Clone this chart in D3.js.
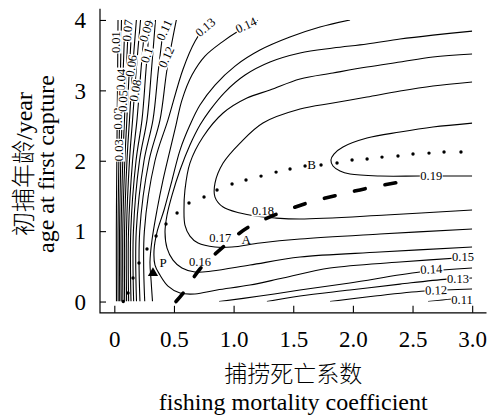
<!DOCTYPE html>
<html>
<head>
<meta charset="utf-8">
<script src="https://cdn.jsdelivr.net/npm/d3@7"></script>
<style>body{margin:0;background:#fff}</style>
</head>
<body>
<div id="chart"></div>
<script>
//----------------------------------------------------------------
// values read off the figure : F = fishing mortality, tc = age at first capture
var xTicks = [0, 0.5, 1, 1.5, 2, 2.5, 3];
var xTickLabels = ["0", "0.5", "1.0", "1.5", "2.0", "2.5", "3.0"];
var yTicks = [0, 1, 2, 3, 4];
var yTickLabels = ["0", "1", "2", "3", "4"];

// tc heights at which the steep lines near F = 0 were read
var steepTc = [0, 1, 2, 2.58, 3.3, 4];
var f001 = [0.018, 0.017, 0.021, 0.024, 0.028, 0.031];
var f002 = [0.032, 0.031, 0.038, 0.044, 0.052, 0.060];
var f003 = [0.045, 0.044, 0.054, 0.065, 0.075, 0.090];
var f004 = [0.058, 0.057, 0.071, 0.085, 0.101, 0.120];
var f005 = [0.072, 0.071, 0.088, 0.105, 0.126, 0.150];
var f006 = [0.087, 0.086, 0.106, 0.127, 0.153, 0.185];
var f007 = [0.103, 0.102, 0.127, 0.153, 0.184, 0.220];
var f008 = [0.120, 0.119, 0.153, 0.190, 0.224, 0.260];
var f009 = [0.140, 0.138, 0.182, 0.232, 0.266, 0.299];
var f010 = [0.162, 0.160, 0.211, 0.274, 0.312, 0.345];
var f011 = [0.186, 0.184, 0.249, 0.324, 0.370, 0.420];
var f012 = [0.215, 0.213, 0.291, 0.383, 0.442, 0.520];

// other contour pieces as [F, tc]
var c013a = [[0.255,0],[0.252,1],[0.341,2],[0.450,2.58],[0.576,3.3],[0.678,3.7],[0.802,4]];
var c013b = [[1.279,0],[1.556,0.078],[1.975,0.163],[2.395,0.248],[2.788,0.319],[3.0,0.334]];
var c014a = [[0.320,0],[0.308,0.305],[0.299,0.561],[0.316,0.874],[0.358,1.300],[0.408,1.726],
             [0.467,2.152],[0.517,2.507],[0.567,2.862],[0.651,3.217],[0.760,3.487],[0.903,3.686],
             [1.054,3.857],[1.204,4.0]];
var c014b = [[0.878,0],[1.221,0.078],[1.556,0.163],[1.975,0.263],[2.562,0.419],[3.0,0.476]];
var c015 = [[1.976,4.0],[1.724,3.899],[1.472,3.757],[1.221,3.572],[1.012,3.345],[0.844,3.075],
            [0.718,2.791],[0.634,2.507],[0.551,2.152],[0.484,1.726],[0.417,1.300],[0.358,0.987],
            [0.333,0.732],[0.341,0.518],[0.383,0.376],[0.450,0.220],[0.551,0.121],[0.676,0.107],
            [0.861,0.163],[1.137,0.234],[1.414,0.334],[1.808,0.476],[2.395,0.561],[3.0,0.632]];
var c016 = [[3.0,3.842],[2.671,3.785],[2.395,3.729],[2.118,3.658],[1.833,3.601],[1.557,3.530],
            [1.305,3.402],[1.096,3.217],[0.928,2.976],[0.802,2.720],[0.718,2.507],[0.634,2.223],
            [0.551,1.868],[0.484,1.513],[0.442,1.229],[0.425,0.987],[0.442,0.760],[0.492,0.589],
            [0.567,0.476],[0.676,0.419],[0.819,0.433],[1.137,0.518],[1.557,0.632],[2.227,0.703],[3.0,0.774]];
var c017 = [[3.0,3.516],[2.671,3.473],[2.395,3.402],[2.118,3.331],[1.833,3.246],[1.557,3.161],
            [1.305,3.004],[1.112,2.891],[0.912,2.678],[0.743,2.337],[0.634,1.967],[0.592,1.584],
            [0.584,1.300],[0.592,1.087],[0.634,0.930],[0.702,0.831],[0.844,0.774],[0.986,0.774],
            [1.221,0.831],[1.557,0.888],[2.227,0.959],[3.0,1.030]];
var c018 = [[3.0,3.118],[2.671,3.061],[2.395,2.990],[2.118,2.905],[1.833,2.820],[1.557,2.734],
            [1.246,2.536],[1.054,2.251],[0.912,1.967],[0.844,1.683],[0.844,1.484],[0.912,1.342],
            [1.054,1.257],[1.180,1.214],[1.347,1.186],[1.557,1.172],[2.278,1.229],[3.0,1.300]];
var c019 = [[3.0,2.535],[2.671,2.479],[2.395,2.408],[2.118,2.322],[1.917,2.195],[1.841,2.095],
            [1.816,2.010],[1.833,1.925],[1.892,1.854],[1.976,1.811],[2.227,1.783],[2.562,1.783],[3.0,1.783]];
var c012b = [[1.808,0],[2.185,0.078],[2.604,0.149],[3.0,0.178]];
var c011b = [[2.630,0],[2.831,0.036],[3.0,0.050]];

// contour labels : text, F, tc, angle
var labelText = ["0.01","0.02","0.03","0.04","0.05","0.06","0.07","0.08","0.09","0.1","0.11","0.12","0.13","0.14",
                 "0.19","0.15","0.14","0.13","0.12","0.11","0.18","0.17","0.16"];
var labelF    = [0.014,0.028,0.040,0.055,0.070,0.140,0.110,0.175,0.266,0.270,0.418,0.434,0.762,1.104,
                 2.657,2.923,2.657,2.881,2.697,2.915,1.246,0.888,0.718];
var labelTc   = [3.686,2.600,2.150,3.150,2.850,3.350,3.850,3.000,3.842,3.501,3.857,3.473,3.899,3.928,
                 1.783,0.632,0.462,0.320,0.163,0.021,1.290,0.902,0.561];
var labelAngle= [-90,-90,-90,-88,-88,-82,-84,-80,-72,-72,-65,-65,-40,-25,
                 0,0,-3,0,-2,0,0,0,0];

// eumetric lines
var dashF  = [0.517,0.584,0.718,0.911,1.112,1.364,1.616,1.875,2.126,2.395];
var dashTc = [0.0,0.135,0.462,0.774,1.044,1.243,1.399,1.513,1.612,1.697];
var dotF  = [0.075,0.115,0.157,0.207,0.274,0.350,0.433,0.526,0.626,0.752,0.861,0.987,1.104,1.230,1.356,
             1.473,1.599,1.733,1.867,1.993,2.119,2.244,2.378,2.504,2.638,2.764,2.906];
var dotTc = [0.0,0.121,0.334,0.547,0.746,0.930,1.101,1.257,1.399,1.484,1.584,1.669,1.726,1.782,1.839,
             1.882,1.925,1.939,1.967,2.010,2.024,2.052,2.067,2.095,2.109,2.124,2.124];

// named points
var pointNames = ["A", "B", "P"];
var pointF = [1.106, 1.653, 0.409];
var pointTc = [0.888, 1.946, 0.561];
var markF = [0.324], markTc = [0.405];

//----------------------------------------------------------------
var W = 488, H = 420;
var serif = "'Liberation Serif','Times New Roman',serif";
var cjk = "'Noto Sans CJK SC',sans-serif";
var svg = d3.select("#chart").append("svg")
    .attr("width", W).attr("height", H)
    .style("font-family", serif)
    .style("background", "#fff");

var x = d3.scaleLinear().domain([-0.12, 3.12]).range([100, 486.5]);
var y = d3.scaleLinear().domain([-0.16, 4.16]).range([312.8, 8.7]);

svg.append("defs").append("clipPath").attr("id", "clip")
    .append("rect")
    .attr("x", x(0)).attr("y", y(4))
    .attr("width", x(3) - x(0)).attr("height", y(0) - y(4));

var line = d3.line()
    .x(function(d){ return x(d[0]); })
    .y(function(d){ return y(d[1]); })
    .curve(d3.curveCatmullRom.alpha(0.5));

// build the contour list
var steep = [f001,f002,f003,f004,f005,f006,f007,f008,f009,f010,f011,f012];
var pieces = steep.map(function(fs){
  return fs.map(function(f, i){ return [f, steepTc[i]]; });
});
pieces = pieces.concat([c013a, c013b, c014a, c014b, c015, c016, c017, c018, c019, c012b, c011b]);

var g = svg.append("g").attr("clip-path", "url(#clip)");
g.selectAll("path.iso")
  .data(pieces)
  .enter().append("path")
  .attr("class", "iso")
  .attr("d", line)
  .attr("fill", "none")
  .attr("stroke", "#000")
  .attr("stroke-width", 1.1);

// contour labels with a white patch that breaks the line
var lab = svg.selectAll("g.lab")
  .data(labelText)
  .enter().append("g")
  .attr("class", "lab")
  .attr("transform", function(d, i){
     return "translate(" + x(labelF[i]) + "," + y(labelTc[i]) + ") rotate(" + labelAngle[i] + ")";
  });
lab.append("rect").attr("fill", "#fff");
lab.append("text")
  .text(function(d){ return d; })
  .attr("text-anchor", "middle")
  .attr("dy", "0.35em")
  .style("font-size", "12.5px");
lab.each(function(){
  var t = d3.select(this).select("text").node().getBBox();
  d3.select(this).select("rect")
    .attr("x", t.x - 0.5).attr("y", t.y + 1.5)
    .attr("width", t.width + 1).attr("height", t.height - 3);
});

// dashed line (optimum F for each tc)
var dashPts = dashF.map(function(f, i){ return [f, dashTc[i]]; });
svg.append("path")
  .attr("d", line(dashPts))
  .attr("fill", "none")
  .attr("stroke", "#000")
  .attr("stroke-width", 3.6)
  .attr("stroke-linecap", "round")
  .attr("stroke-dasharray", "11,20");

// dotted line (optimum tc for each F)
svg.selectAll("circle.dot")
  .data(dotF)
  .enter().append("circle")
  .attr("class", "dot")
  .attr("cx", function(d){ return x(d); })
  .attr("cy", function(d, i){ return y(dotTc[i]); })
  .attr("r", 1.7)
  .attr("fill", "#000");

// P marker
svg.selectAll("path.mark")
  .data(markF)
  .enter().append("path")
  .attr("class", "mark")
  .attr("d", d3.symbol().type(d3.symbolTriangle).size(45))
  .attr("transform", function(d, i){ return "translate(" + x(d) + "," + y(markTc[i]) + ")"; });

svg.selectAll("text.pt")
  .data(pointNames)
  .enter().append("text")
  .attr("class", "pt")
  .attr("x", function(d, i){ return x(pointF[i]); })
  .attr("y", function(d, i){ return y(pointTc[i]); })
  .attr("dy", "0.35em")
  .attr("text-anchor", "middle")
  .style("font-size", "13px")
  .text(function(d){ return d; });

//----------------------------------------------------------------
// axes (R style, ticks pointing inwards, L shaped box)
var ax = svg.append("g")
  .attr("transform", "translate(0," + y.range()[0] + ")")
  .call(d3.axisBottom(x).tickValues(xTicks)
        .tickFormat(function(d, i){ return xTickLabels[i]; })
        .tickSize(-7));
ax.select(".domain").remove();
ax.selectAll("line").attr("stroke", "#000").attr("stroke-width", 1.1);
ax.selectAll("text")
  .attr("y", 34).attr("dy", 0)
  .style("font-family", serif).style("font-size", "23px").attr("fill", "#000");

var ay = svg.append("g")
  .attr("transform", "translate(" + x.range()[0] + ",0)")
  .call(d3.axisLeft(y).tickValues(yTicks)
        .tickFormat(function(d, i){ return yTickLabels[i]; })
        .tickSize(-6));
ay.select(".domain").remove();
ay.selectAll("line").attr("stroke", "#000").attr("stroke-width", 1.1);
ay.selectAll("text")
  .attr("x", -14).attr("dy", "0.34em")
  .style("font-family", serif).style("font-size", "23px").attr("fill", "#000");

svg.append("path")
  .attr("d", "M" + x.range()[0] + "," + y.range()[1] + "V" + y.range()[0] + "H" + x.range()[1])
  .attr("fill", "none").attr("stroke", "#000").attr("stroke-width", 1.2);

// axis titles
var xc = (x.range()[0] + x.range()[1]) / 2;
svg.append("text")
  .attr("x", xc).attr("y", 382)
  .attr("text-anchor", "middle")
  .style("font-family", cjk)
  .style("font-weight", 300)
  .style("font-size", "23px")
  .text("捕捞死亡系数");
svg.append("text")
  .attr("x", xc).attr("y", 410)
  .attr("text-anchor", "middle")
  .style("font-size", "24px")
  .text("fishing mortality coefficient");

var yc = 164;
var yt1 = svg.append("text")
  .attr("transform", "translate(32," + yc + ") rotate(-90)")
  .attr("text-anchor", "middle")
  .style("font-size", "24px");
yt1.append("tspan").style("font-family", cjk).style("font-weight", 300).text("初捕年龄");
yt1.append("tspan").text("/year");
svg.append("text")
  .attr("transform", "translate(54," + yc + ") rotate(-90)")
  .attr("text-anchor", "middle")
  .style("font-size", "24px")
  .text("age at first capture");
</script>
</body>
</html>
